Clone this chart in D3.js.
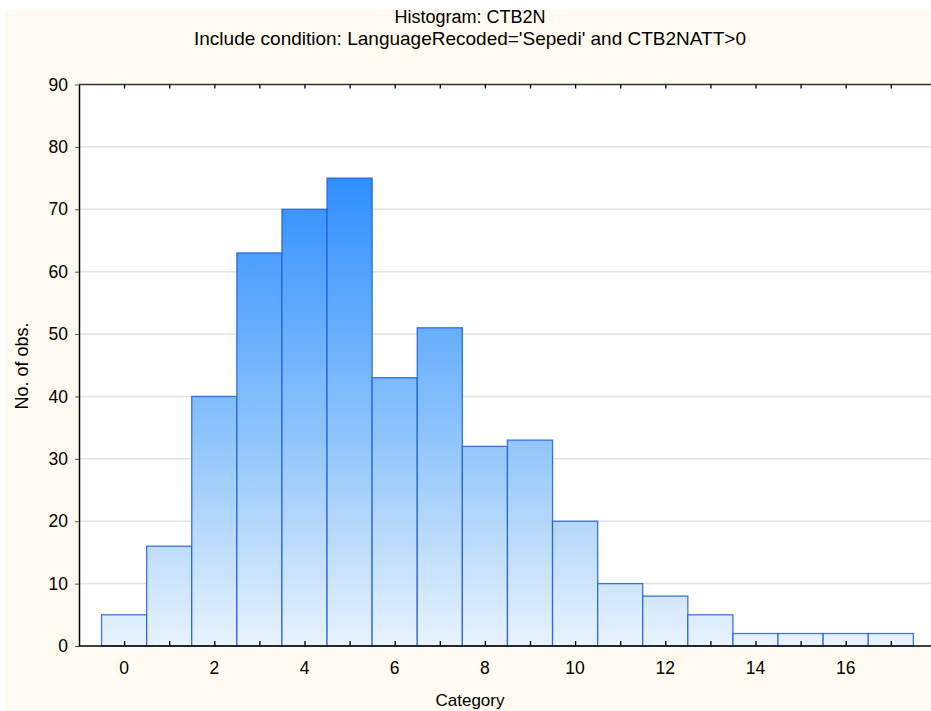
<!DOCTYPE html>
<html><head><meta charset="utf-8">
<script src="https://cdn.jsdelivr.net/npm/d3@7"></script>
<style>body{margin:0;background:#fff;}svg{display:block;font-family:"Liberation Sans",Arial,sans-serif;}</style>
</head><body>
<script>
const categories = [0,1,2,3,4,5,6,7,8,9,10,11,12,13,14,15,16,17];
const counts = [5,16,40,63,70,75,43,51,32,33,20,10,8,5,2,2,2,2];
const xTicks = [0,2,4,6,8,10,12,14,16];
const yTicks = [0,10,20,30,40,50,60,70,80,90];
const title = "Histogram: CTB2N";
const subtitle = "Include condition: LanguageRecoded='Sepedi' and CTB2NATT>0";
const xLabel = "Category";
const yLabel = "No. of obs.";

(function(){
const W = 931, H = 711;
const pLeft = 79, pTop = 84.5, pBottom = 646;
const svg = d3.select("body").append("svg").attr("width", W).attr("height", H);

svg.append("rect").attr("x",5).attr("y",10).attr("width",W-5).attr("height",H-10).attr("fill","#fffaef");

const x = d3.scaleLinear().domain([-1, 18]).range([pLeft, pLeft + 19*45.1]);
const y = d3.scaleLinear().domain([0, 90]).range([pBottom, pTop]);

svg.append("rect").attr("x",pLeft).attr("y",pTop).attr("width",W-pLeft).attr("height",pBottom-pTop).attr("fill","#fff");

const defs = svg.append("defs");
const grad = defs.append("linearGradient").attr("id","g").attr("gradientUnits","userSpaceOnUse")
  .attr("x1",0).attr("x2",0).attr("y1",y(77)).attr("y2",y(0));
grad.append("stop").attr("offset","0%").attr("stop-color","#2a8cff");
grad.append("stop").attr("offset","55%").attr("stop-color","#8cc3fb");
grad.append("stop").attr("offset","100%").attr("stop-color","#e8f3fd");

// gridlines
svg.append("g").selectAll("line").data(yTicks.filter(v=>v>0 && v<90)).join("line")
  .attr("x1",pLeft).attr("x2",W).attr("y1",d=>y(d)).attr("y2",d=>y(d))
  .attr("stroke","#e2e2e2").attr("stroke-width",1.5);

// bars
svg.append("g").selectAll("rect").data(categories).join("rect")
  .attr("x",(d)=>x(d-0.5)).attr("width",(d)=>x(d+0.5)-x(d-0.5))
  .attr("y",(d,i)=>y(counts[i])).attr("height",(d,i)=>y(0)-y(counts[i]))
  .attr("fill","url(#g)").attr("stroke","#1f5fd6").attr("stroke-opacity",0.85).attr("stroke-width",1.3);

// top border
svg.append("line").attr("x1",pLeft).attr("x2",W).attr("y1",pTop).attr("y2",pTop).attr("stroke","#333").attr("stroke-width",1.3);

// bottom axis
const xa = svg.append("g").attr("transform",`translate(0,${pBottom})`)
  .call(d3.axisBottom(x).tickValues(categories).tickSizeInner(-5).tickSizeOuter(0).tickFormat(""));
xa.select(".domain").remove();
xa.selectAll(".tick line").attr("stroke","#000").attr("stroke-width",1.3);
svg.append("line").attr("x1",pLeft).attr("x2",W).attr("y1",pBottom).attr("y2",pBottom).attr("stroke","#000").attr("stroke-width",1.5);
svg.append("g").selectAll("text").data(xTicks).join("text")
  .attr("x",d=>x(d)).attr("y",pBottom+28).attr("text-anchor","middle").attr("font-size",17.5).attr("fill","#000").text(d=>d);

// top ticks
const ta = svg.append("g").attr("transform",`translate(0,${pTop})`)
  .call(d3.axisTop(x).tickValues(categories).tickSizeInner(-4).tickSizeOuter(0).tickFormat(""));
ta.select(".domain").remove();
ta.selectAll(".tick line").attr("stroke","#000").attr("stroke-width",1.3);

// left axis
const ya = svg.append("g").attr("transform",`translate(${pLeft},0)`)
  .call(d3.axisLeft(y).tickValues(yTicks).tickSizeInner(4).tickSizeOuter(0).tickPadding(7));
ya.select(".domain").attr("stroke","#000").attr("stroke-width",1.5);
ya.selectAll(".tick line").attr("stroke","#555");
ya.selectAll(".tick text").attr("font-size",17.5).attr("fill","#000").attr("font-family","Liberation Sans, Arial, sans-serif");

svg.append("text").attr("x",470).attr("y",23).attr("text-anchor","middle").attr("font-size",18).text(title);
svg.append("text").attr("x",470).attr("y",45).attr("text-anchor","middle").attr("font-size",19).text(subtitle);
svg.append("text").attr("x",470).attr("y",706).attr("text-anchor","middle").attr("font-size",17).text(xLabel);
svg.append("text").attr("transform",`translate(28,366) rotate(-90)`).attr("text-anchor","middle").attr("font-size",18).text(yLabel);
})();
</script>
</body></html>
